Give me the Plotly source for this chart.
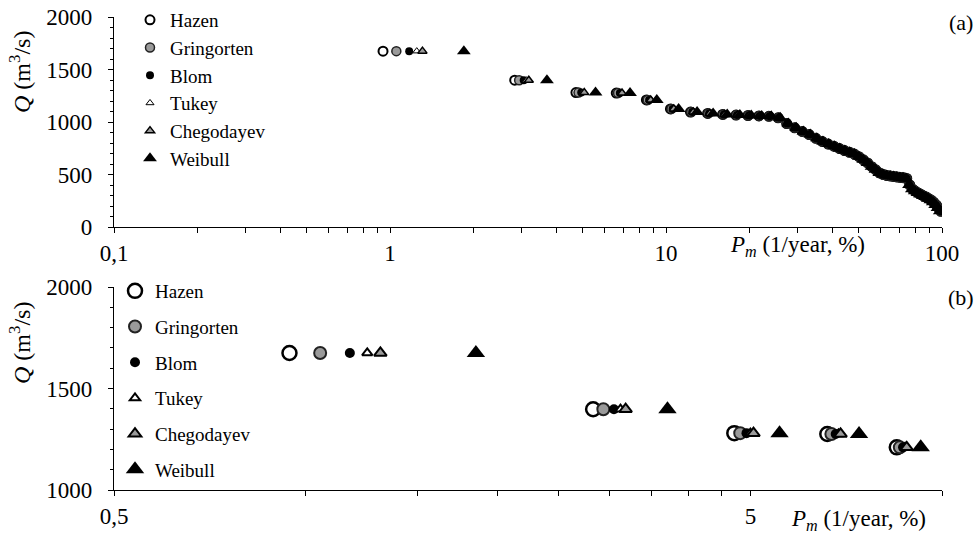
import plotly.graph_objects as go

# ---------------- data ----------------
# Annual maximum discharges Q (m3/s), ranked in descending order (rank m = 1..n)
Q = [1675, 1398, 1280, 1276, 1210, 1125, 1095, 1082, 1072, 1066,
     1062, 1058, 1054, 1040, 985, 945, 910, 880, 845, 815,
     790, 770, 748, 728, 712, 695, 670, 640, 610, 575,
     545, 515, 500, 490, 485, 480, 476, 472, 468, 462,
     400, 360, 340, 325, 310, 295, 285, 270, 255, 235,
     210, 180, 150]

# Plotting-position methods and their constant a in P = (m - a) / (n + 1 - 2a)
methods = ["Hazen", "Gringorten", "Blom", "Tukey", "Chegodayev", "Weibull"]
pp_const = [0.5, 0.44, 0.375, 1 / 3, 0.3, 0.0]

top_xticks = [0.1, 1, 10, 100]
top_xlabels = ["0,1", "1", "10", "100"]
top_minor = [0.2, 0.3, 0.4, 0.5, 0.6, 0.7, 0.8, 0.9,
             2, 3, 4, 5, 6, 7, 8, 9,
             20, 30, 40, 50, 60, 70, 80, 90]
bot_xticks = [0.5, 5]
bot_xlabels = ["0,5", "5"]
bot_minor = [1, 1.5, 2, 2.5, 3, 3.5, 4, 4.5, 10]
zoom_ranks = 5  # number of largest floods shown in panel (b)

# ---------------- styles ----------------
FONT = "Liberation Serif"
GREY = "#9a9a9a"
style_top = {
    "Hazen": dict(symbol="circle", size=9, color="white", line=dict(color="black", width=2)),
    "Gringorten": dict(symbol="circle", size=9, color=GREY, line=dict(color="#222", width=1.5)),
    "Blom": dict(symbol="circle", size=8, color="black", line=dict(color="black", width=0)),
    "Tukey": dict(symbol="triangle-up", size=7, color="white", line=dict(color="black", width=1)),
    "Chegodayev": dict(symbol="triangle-up", size=8, color=GREY, line=dict(color="black", width=1.5)),
    "Weibull": dict(symbol="triangle-up", size=12, color="black", line=dict(color="black", width=0)),
}
style_bot = {
    "Hazen": dict(symbol="circle", size=14, color="white", line=dict(color="black", width=2.5)),
    "Gringorten": dict(symbol="circle", size=12, color=GREY, line=dict(color="#222", width=2)),
    "Blom": dict(symbol="circle", size=10, color="black", line=dict(color="black", width=0)),
    "Tukey": dict(symbol="triangle-up", size=9, color="white", line=dict(color="black", width=2)),
    "Chegodayev": dict(symbol="triangle-up", size=11, color=GREY, line=dict(color="black", width=2)),
    "Weibull": dict(symbol="triangle-up", size=16, color="black", line=dict(color="black", width=0)),
}

n = len(Q)
ranks = list(range(1, n + 1))

fig = go.Figure()
for name, a in zip(methods, pp_const):
    P = [100.0 * (m - a) / (n + 1 - 2 * a) for m in ranks]
    fig.add_trace(go.Scatter(
        x=P, y=Q, mode="markers", name=name, legendgroup=name + "_a",
        marker=style_top[name], xaxis="x", yaxis="y", legend="legend",
    ))
for name, a in zip(methods, pp_const):
    P = [100.0 * (m - a) / (n + 1 - 2 * a) for m in ranks[:zoom_ranks]]
    fig.add_trace(go.Scatter(
        x=P, y=Q[:zoom_ranks], mode="markers", name=name, legendgroup=name + "_b",
        marker=style_bot[name], xaxis="x2", yaxis="y2", legend="legend2",
    ))

W, H = 979, 536
L, R, T, B = 114, 37, 17, 46
pw, ph = W - L - R, H - T - B


def px_x(p):
    return (p - L) / pw


def px_y(p):
    return (H - B - p) / ph


tickfont = dict(family=FONT, size=23, color="black")
axis_common = dict(showline=True, linecolor="black", linewidth=1.2, ticks="outside",
                   ticklen=5, tickwidth=1.2, tickcolor="black", showgrid=False,
                   zeroline=False, tickfont=tickfont, automargin=False)
legfont = dict(family=FONT, size=19, color="black")

fig.update_layout(
    width=W, height=H, margin=dict(l=L, r=R, t=T, b=B, autoexpand=False),
    plot_bgcolor="white", paper_bgcolor="white",
    font=dict(family=FONT, size=20, color="black"),
    showlegend=True,
    xaxis=dict(type="log", range=[-1, 2], domain=[0, 1], anchor="y",
               tickmode="array", tickvals=top_xticks, ticktext=top_xlabels,
               minor=dict(tickmode="array", tickvals=top_minor, ticks="outside",
                          ticklen=5, tickwidth=1.2, tickcolor="black"),
               **axis_common),
    yaxis=dict(range=[0, 2000], domain=[px_y(227), 1], anchor="x",
               tickmode="linear", tick0=0, dtick=500, ticklabelstandoff=11,
               minor=dict(dtick=100, ticks="outside", ticklen=3, tickwidth=1, tickcolor="black"),
               **axis_common),
    xaxis2=dict(type="log", range=[-0.30103, 1], domain=[0, 1], anchor="y2",
                tickmode="array", tickvals=bot_xticks, ticktext=bot_xlabels,
                minor=dict(tickmode="array", tickvals=bot_minor, ticks="outside",
                           ticklen=5, tickwidth=1.2, tickcolor="black"),
                **axis_common),
    yaxis2=dict(range=[1000, 2000], domain=[0, px_y(287)], anchor="x2",
                tickmode="linear", tick0=1000, dtick=500, ticklabelstandoff=11,
                minor=dict(dtick=100, ticks="outside", ticklen=3, tickwidth=1, tickcolor="black"),
                **axis_common),
    legend=dict(x=px_x(130), y=px_y(1), xanchor="left", yanchor="top",
                bgcolor="rgba(0,0,0,0)", traceorder="grouped", tracegroupgap=0,
                itemsizing="trace", font=legfont),
    legend2=dict(x=px_x(115), y=px_y(272), xanchor="left", yanchor="top",
                 bgcolor="rgba(0,0,0,0)", traceorder="grouped", tracegroupgap=8,
                 itemsizing="trace", font=legfont),
)

ann = dict(showarrow=False, xref="paper", yref="paper")
f22 = dict(family=FONT, size=22, color="black")
f23 = dict(family=FONT, size=23, color="black")
f24 = dict(family=FONT, size=24, color="black")
fig.add_annotation(text="(a)", x=px_x(961), y=px_y(22), xanchor="center", yanchor="middle", font=f22, **ann)
fig.add_annotation(text="(b)", x=px_x(961), y=px_y(297), xanchor="center", yanchor="middle", font=f22, **ann)
fig.add_annotation(text="<i>P</i><sub><i>m</i></sub> (1/year, %)", x=px_x(797), y=px_y(246),
                   xanchor="center", yanchor="middle", font=f23, **ann)
fig.add_annotation(text="<i>P</i><sub><i>m</i></sub> (1/year, %)", x=px_x(858), y=px_y(520),
                   xanchor="center", yanchor="middle", font=f23, **ann)
fig.add_annotation(text="<i>Q</i> (m<sup>3</sup>/s)", x=px_x(20), y=px_y(72), textangle=-90,
                   xanchor="center", yanchor="middle", font=f24, **ann)
fig.add_annotation(text="<i>Q</i> (m<sup>3</sup>/s)", x=px_x(20), y=px_y(343), textangle=-90,
                   xanchor="center", yanchor="middle", font=f24, **ann)

fig.write_html("out.html", config={"displayModeBar": False},
               post_script="document.body.style.margin='0';")
